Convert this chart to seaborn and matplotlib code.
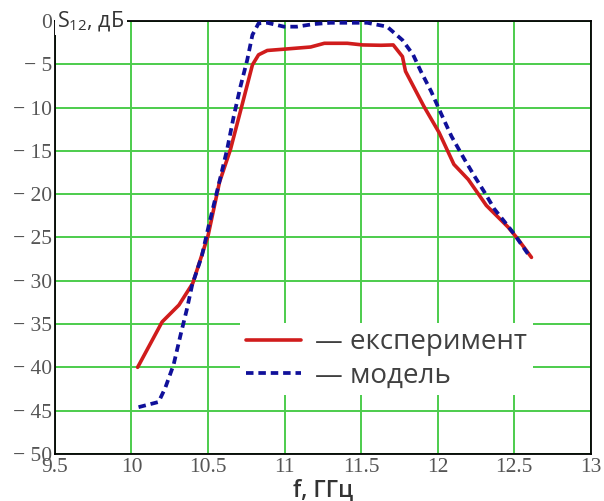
import matplotlib
matplotlib.use("Agg")
import matplotlib.pyplot as plt
import seaborn as sns
import pandas as pd

# експеримент (red, solid)
f_exp = [10.04, 10.2, 10.31, 10.40, 10.5, 10.575, 10.647, 10.72, 10.79, 10.83,
         10.887, 10.996, 11.17, 11.26, 11.41, 11.51, 11.63, 11.71, 11.77, 11.79,
         11.91, 12.01, 12.106, 12.2, 12.318, 12.46, 12.525, 12.613]
s_exp = [-40.0, -34.75, -32.8, -30.3, -24.8, -18.6, -14.8, -9.85, -5.06, -3.9,
         -3.4, -3.25, -3.0, -2.57, -2.57, -2.76, -2.8, -2.76, -4.1, -5.8,
         -9.85, -12.9, -16.55, -18.3, -21.3, -23.8, -25.2, -27.3]

# модель (blue, dashed)
f_mod = [10.046, 10.177, 10.22, 10.275, 10.32, 10.363, 10.396, 10.46, 10.505, 10.575,
         10.625, 10.668, 10.712, 10.756, 10.79, 10.83, 10.887, 10.996, 11.08, 11.19,
         11.30, 11.54, 11.67, 11.77, 11.84, 11.89, 11.957, 12.02, 12.09, 12.176,
         12.24, 12.307, 12.37, 12.44, 12.5, 12.59]
s_mod = [-44.6, -44.0, -42.4, -39.7, -36.3, -33.2, -30.5, -27.1, -23.6, -18.5,
         -14.8, -11.0, -7.55, -4.5, -1.6, -0.27, -0.2, -0.65, -0.65, -0.35,
         -0.2, -0.2, -0.65, -2.2, -3.9, -5.8, -8.1, -10.6, -13.3, -16.0,
         -17.9, -19.8, -21.7, -23.25, -24.6, -26.9]

x_ticks = [9.5, 10, 10.5, 11, 11.5, 12, 12.5, 13]
x_labels = ["9.5", "10", "10.5", "11", "11.5", "12", "12.5", "13"]
y_ticks = [0, -5, -10, -15, -20, -25, -30, -35, -40, -45, -50]
y_labels = ["0"] + ["\u2212 " + str(-v) for v in y_ticks[1:]]

df_exp = pd.DataFrame({"f": f_exp, "s": s_exp})
df_mod = pd.DataFrame({"f": f_mod, "s": s_mod})

sns.set_theme(style="whitegrid")
plt.rcParams["font.family"] = ["Open Sans", "DejaVu Sans"]

fig = plt.figure(figsize=(6.04, 5.01), dpi=100, facecolor="white")
ax = fig.add_axes([0.091, 0.094, 0.887, 0.864])
ax.set_facecolor("white")

sns.lineplot(data=df_exp, x="f", y="s", color="#d01c1c", linewidth=2.6,
             label="\u2014 експеримент", ax=ax, zorder=3)
sns.lineplot(data=df_mod, x="f", y="s", color="#10109a", linewidth=2.7,
             linestyle=(0, (2, 1.3)), label="\u2014 модель", ax=ax, zorder=3)

ax.set_xlim(9.5, 13)
ax.set_ylim(-50, 0)
ax.set_xticks(x_ticks)
ax.set_xticklabels(x_labels)
ax.set_yticks(y_ticks)
ax.set_yticklabels(y_labels)
for lab in ax.get_xticklabels() + ax.get_yticklabels():
    lab.set_fontfamily("Liberation Serif")
    lab.set_fontsize(15.5)
    lab.set_color("#555555")
ax.tick_params(axis="both", length=0)
ax.tick_params(axis="x", pad=3)
ax.tick_params(axis="y", pad=2)

ax.grid(True, color="#4ccc4c", linewidth=1.4)
for side in ["left", "bottom", "right", "top"]:
    ax.spines[side].set_visible(True)
    ax.spines[side].set_color("black")
    ax.spines[side].set_linewidth(1.3)

ax.set_xlabel("f, ГГц", fontsize=16.5, color="#333333", fontweight="semibold", labelpad=1)
ax.set_ylabel("")

ax.text(0.004, 1.0, "S$_{\\mathregular{12}}$, дБ", transform=ax.transAxes,
        fontsize=15.5, color="#333333", ha="left", va="center", zorder=5,
        bbox=dict(facecolor="white", edgecolor="none", pad=1.5))

leg = ax.legend(loc="upper left", bbox_to_anchor=(0.32, 0.335), fontsize=20,
                frameon=True, facecolor="white", edgecolor="none", framealpha=1,
                handlelength=2.0, handletextpad=0.5, labelspacing=0.2,
                borderpad=0.2, labelcolor="#404040")
leg.get_frame().set_boxstyle("square", pad=0)

fig.savefig("out.png", dpi=100, facecolor="white")
